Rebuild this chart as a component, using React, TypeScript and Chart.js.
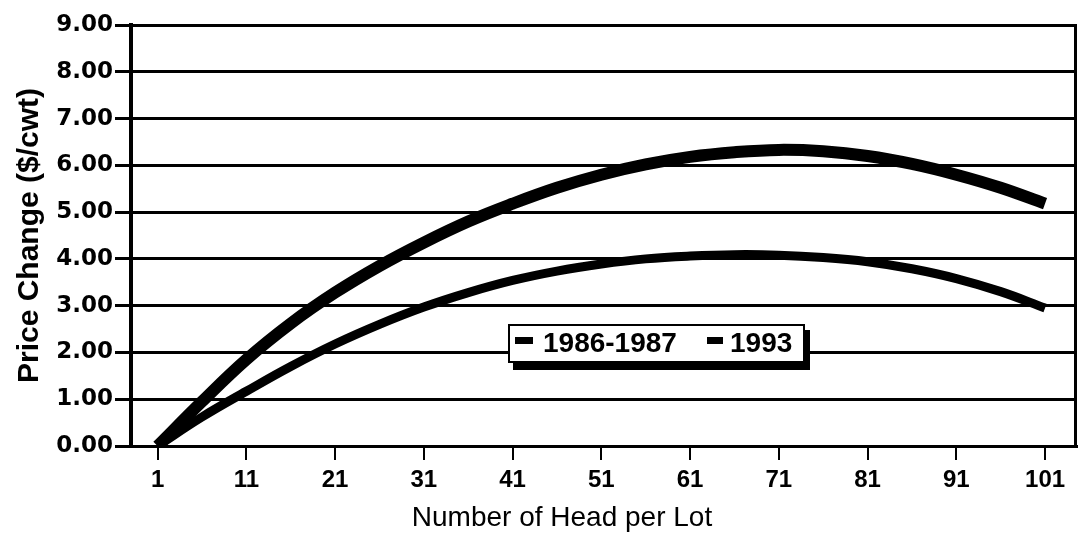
import React, { useEffect, useRef } from 'react';
import { Chart, registerables } from 'chart.js';

Chart.register(...registerables);

// ---- data ----
const lotSizes = [1, 6, 11, 16, 21, 26, 31, 36, 41, 46, 51, 56, 61, 66, 71, 76, 81, 86, 91, 96, 101];
const series1986 = [0, 0.95, 1.85, 2.62, 3.28, 3.85, 4.35, 4.8, 5.18, 5.52, 5.8, 6.02, 6.18, 6.28, 6.33, 6.3, 6.2, 6.03, 5.8, 5.52, 5.18];
const series1993 = [0, 0.62, 1.17, 1.7, 2.18, 2.6, 2.97, 3.28, 3.54, 3.74, 3.89, 4.0, 4.06, 4.09, 4.08, 4.03, 3.94, 3.79, 3.58, 3.3, 2.95];
const seriesLabels = ['1986-1987', '1993'];
const xTickValues = [1, 11, 21, 31, 41, 51, 61, 71, 81, 91, 101];
const yTickValues = [0, 1, 2, 3, 4, 5, 6, 7, 8, 9];
const yTickLabels = ['0.00', '1.00', '2.00', '3.00', '4.00', '5.00', '6.00', '7.00', '8.00', '9.00'];
const xTitle = 'Number of Head per Lot';
const yTitle = 'Price Change ($/cwt)';

const boxLegendPlugin = {
  id: 'boxLegend',
  afterDatasetsDraw(chart: any) {
    const ctx = chart.ctx;
    const L = 508, T = 324, W = 297, H = 39;
    ctx.save();
    ctx.fillStyle = '#000';
    ctx.fillRect(L + 5, T + 6, W, H + 1);
    ctx.fillStyle = '#fff';
    ctx.fillRect(L, T, W, H);
    ctx.lineWidth = 2;
    ctx.strokeStyle = '#000';
    ctx.strokeRect(L + 1, T + 1, W - 2, H - 2);
    const ds = chart.data.datasets;
    ctx.fillStyle = '#000';
    ctx.font = 'bold 28px "Liberation Sans"';
    ctx.textBaseline = 'middle';
    ctx.textAlign = 'left';
    ctx.fillRect(515, 337, 18, 7);
    ctx.fillText(ds[0].label, 543, 344);
    ctx.fillRect(707, 337, 16, 7);
    ctx.fillText(ds[1].label, 730, 344);
    ctx.restore();
  },
};

const framePlugin = {
  id: 'frameExtras',
  afterDraw(chart: any) {
    const ctx = chart.ctx;
    const a = chart.chartArea;
    ctx.save();
    ctx.strokeStyle = '#000';
    ctx.lineWidth = 3;
    ctx.beginPath();
    ctx.moveTo(a.right - 1.5, a.top);
    ctx.lineTo(a.right - 1.5, a.bottom);
    ctx.stroke();
    ctx.fillStyle = '#000';
    ctx.font = '28px "Liberation Sans"';
    ctx.textAlign = 'center';
    ctx.textBaseline = 'alphabetic';
    ctx.fillText(xTitle, 562, 526);
    ctx.restore();
  },
};

export default function App() {
  const canvasRef = useRef<HTMLCanvasElement | null>(null);

  useEffect(() => {
    const canvas = canvasRef.current;
    if (!canvas) return;
    const chart = new Chart(canvas, {
      type: 'line',
      data: {
        datasets: [
          {
            label: seriesLabels[0],
            data: lotSizes.map((x, i) => ({ x, y: series1986[i] })),
            borderColor: '#000',
            backgroundColor: '#000',
            borderWidth: 12,
            pointRadius: 0,
            tension: 0.4,
            fill: false,
          },
          {
            label: seriesLabels[1],
            data: lotSizes.map((x, i) => ({ x, y: series1993[i] })),
            borderColor: '#000',
            backgroundColor: '#000',
            borderWidth: 9,
            pointRadius: 0,
            tension: 0.4,
            fill: false,
          },
        ],
      },
      options: {
        responsive: false,
        animation: false,
        layout: { padding: { top: 25, right: 4, left: 0, bottom: 0 } },
        plugins: {
          legend: { display: false },
          tooltip: { enabled: false },
        },
        scales: {
          x: {
            type: 'linear',
            min: -2,
            max: 104.6,
            afterFit: (scale: any) => {
              scale.height = 102;
            },
            afterBuildTicks: (scale: any) => {
              scale.ticks = xTickValues.map((v) => ({ value: v }));
            },
            ticks: {
              color: '#000',
              font: { family: '"Liberation Sans"', weight: 'bold', size: 24 },
              padding: 6,
              maxRotation: 0,
              autoSkip: false,
              callback: (v: any) => String(v),
            },
            grid: {
              display: true,
              drawOnChartArea: false,
              drawTicks: true,
              tickLength: 14,
              color: '#000',
              lineWidth: 2,
            },
            border: { display: true, color: '#000', width: 3 },
          },
          y: {
            type: 'linear',
            min: 0,
            max: 9,
            afterFit: (scale: any) => {
              scale.width = 131;
            },
            afterBuildTicks: (scale: any) => {
              scale.ticks = yTickValues.map((v) => ({ value: v }));
            },
            ticks: {
              color: '#000',
              font: { family: '"DejaVu Sans"', weight: 'bold', size: 23 },
              padding: 2,
              autoSkip: false,
              callback: (v: any) => yTickLabels[yTickValues.indexOf(Number(v))],
            },
            grid: {
              display: true,
              drawOnChartArea: true,
              drawTicks: true,
              tickLength: 16,
              color: '#000',
              lineWidth: 3,
            },
            border: { display: true, color: '#000', width: 4 },
            title: {
              display: true,
              text: yTitle,
              color: '#000',
              font: { family: '"Liberation Sans"', weight: 'bold', size: 30 },
              padding: { top: 12, bottom: 0 },
            },
          },
        },
      },
      plugins: [boxLegendPlugin, framePlugin],
    } as any);
    return () => chart.destroy();
  }, []);

  return (
    <div style={{ position: 'absolute', left: 0, top: 0, width: 1081, height: 548, background: '#fff' }}>
      <canvas ref={canvasRef} width={1081} height={548} style={{ display: 'block' }} />
    </div>
  );
}
